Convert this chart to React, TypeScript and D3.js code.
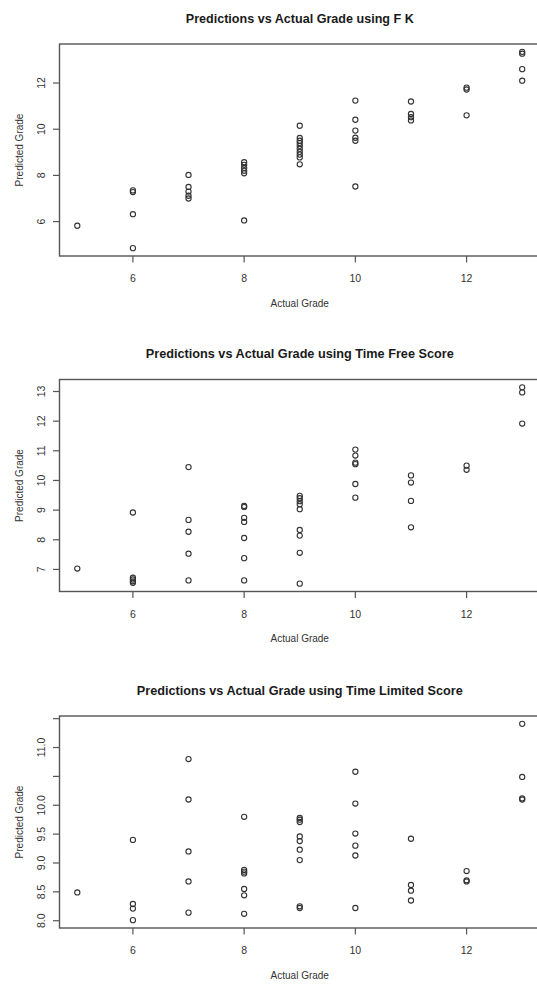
import React from 'react';
import * as d3 from 'd3';

// ---------- data ----------
const actualGrades = [5, 6, 7, 8, 9, 10, 11, 12, 13];

// predicted grades for each actual grade (same order as actualGrades)
const fkPredicted: number[][] = [
  [5.82],
  [7.35, 7.28, 6.32, 4.85],
  [8.02, 7.5, 7.3, 7.12, 7.0],
  [8.57, 8.46, 8.32, 8.2, 8.09, 6.05],
  [10.15, 9.62, 9.5, 9.4, 9.28, 9.15, 9.02, 8.9, 8.78, 8.48],
  [11.24, 10.41, 9.94, 9.63, 9.5, 7.52],
  [11.2, 10.66, 10.52, 10.38],
  [11.8, 11.72, 10.6],
  [13.35, 13.27, 12.6, 12.1],
];

const timeFreePredicted: number[][] = [
  [7.03],
  [8.92, 6.72, 6.66, 6.6, 6.55],
  [10.45, 8.67, 8.27, 7.53, 6.63],
  [9.14, 9.1, 8.74, 8.6, 8.06, 7.38, 6.63],
  [9.48, 9.4, 9.3, 9.2, 9.03, 8.33, 8.14, 7.56, 6.52],
  [11.04, 10.84, 10.6, 10.55, 9.88, 9.42],
  [10.17, 9.93, 9.31, 8.42],
  [10.5, 10.36],
  [13.14, 12.97, 11.92],
];

const timeLimitedPredicted: number[][] = [
  [8.49],
  [9.4, 8.29, 8.21, 8.01],
  [10.8, 10.1, 9.2, 8.68, 8.14],
  [9.8, 8.88, 8.85, 8.82, 8.55, 8.44, 8.12],
  [9.78, 9.75, 9.71, 9.46, 9.38, 9.23, 9.05, 8.25, 8.22],
  [10.58, 10.03, 9.51, 9.3, 9.13, 8.22],
  [9.42, 8.62, 8.52, 8.35],
  [8.86, 8.7, 8.68],
  [11.41, 10.49, 10.12, 10.1],
];

const panelTitles = [
  'Predictions vs Actual Grade using F K',
  'Predictions vs Actual Grade using Time Free Score',
  'Predictions vs Actual Grade using Time Limited Score',
];

const xTickValues = [6, 8, 10, 12];
const xTickLabels = ['6', '8', '10', '12'];
const fkTicks = [6, 8, 10, 12];
const fkTickLabels = ['6', '8', '10', '12'];
const timeFreeTicks = [7, 8, 9, 10, 11, 12, 13];
const timeFreeTickLabels = ['7', '8', '9', '10', '11', '12', '13'];
const timeLimitedTicks = [8.0, 8.5, 9.0, 9.5, 10.0, 10.5, 11.0, 11.5];
// R drops the labels that would collide
const timeLimitedTickLabels = ['8.0', '8.5', '9.0', '9.5', '10.0', '', '11.0', ''];

const xLabel = 'Actual Grade';
const yLabel = 'Predicted Grade';

// ---------- layout ----------
const W = 537;
const H = 986;
const LEFT = 59.5;
const RIGHT = 540;
const PANEL_TOPS = [44, 379.5, 716];
const PANEL_H = 212;
const TITLE_WIDTHS = [228, 308, 326];
const FONT = 'Liberation Sans, Arial, Helvetica, sans-serif';

function rExtend([a, b]: [number, number]): [number, number] {
  const d = (b - a) * 0.04;
  return [a - d, b + d];
}

interface PanelProps {
  title: string;
  series: number[][];
  yTicks: number[];
  yLabels: string[];
  top: number;
  titleWidth: number;
}

function Panel({ title, series, yTicks, yLabels, top, titleWidth }: PanelProps) {
  const bottom = top + PANEL_H;
  const x = d3
    .scaleLinear()
    .domain(rExtend(d3.extent(actualGrades) as [number, number]))
    .range([LEFT, RIGHT]);
  const all = series.flat();
  const y = d3
    .scaleLinear()
    .domain(rExtend(d3.extent(all) as [number, number]))
    .range([bottom, top]);
  const cx = (LEFT + RIGHT) / 2;
  const cy = (top + bottom) / 2;
  const axisColor = '#555';
  const textColor = '#333';

  return (
    <g>
      <text
        x={cx}
        y={top - 26}
        textAnchor="middle"
        dominantBaseline="central"
        fontFamily={FONT}
        fontWeight="bold"
        fontSize={13}
        fill="#1a1a1a"
        textLength={titleWidth}
        lengthAdjust="spacingAndGlyphs"
      >
        {title}
      </text>
      <rect
        x={LEFT}
        y={top}
        width={RIGHT - LEFT}
        height={PANEL_H}
        fill="none"
        stroke={axisColor}
        strokeWidth={1.4}
      />
      {/* x axis ticks */}
      {xTickValues.map((t, i) => (
        <g key={'x' + t}>
          <line x1={x(t)} x2={x(t)} y1={bottom} y2={bottom + 6.5} stroke={axisColor} strokeWidth={1.2} />
          <text
            x={x(t)}
            y={bottom + 22}
            textAnchor="middle"
            dominantBaseline="central"
            fontFamily={FONT}
            fontSize={10.5}
            fill={textColor}
          >
            {xTickLabels[i]}
          </text>
        </g>
      ))}
      {/* y axis ticks */}
      {yTicks.map((t, i) => (
        <g key={'y' + t}>
          <line x1={LEFT - 6.5} x2={LEFT} y1={y(t)} y2={y(t)} stroke={axisColor} strokeWidth={1.2} />
          {yLabels[i] !== '' && (
            <text
              transform={`translate(41,${y(t)}) rotate(-90)`}
              textAnchor="middle"
              dominantBaseline="central"
              fontFamily={FONT}
              fontSize={10.5}
              fill={textColor}
            >
              {yLabels[i]}
            </text>
          )}
        </g>
      ))}
      <text
        x={cx}
        y={bottom + 47}
        textAnchor="middle"
        dominantBaseline="central"
        fontFamily={FONT}
        fontSize={10}
        fill={textColor}
      >
        {xLabel}
      </text>
      <text
        transform={`translate(19,${cy}) rotate(-90)`}
        textAnchor="middle"
        dominantBaseline="central"
        fontFamily={FONT}
        fontSize={10}
        fill={textColor}
      >
        {yLabel}
      </text>
      {series.map((vals, i) =>
        vals.map((v, j) => (
          <circle
            key={i + '-' + j}
            cx={x(actualGrades[i])}
            cy={y(v)}
            r={2.6}
            fill="none"
            stroke="#333"
            strokeWidth={1.1}
          />
        ))
      )}
    </g>
  );
}

export default function App() {
  return (
    <svg
      width={W}
      height={H}
      style={{ position: 'absolute', left: 0, top: 0, background: '#fff' }}
    >
      <rect x={0} y={0} width={W} height={H} fill="#fff" />
      <Panel
        title={panelTitles[0]}
        series={fkPredicted}
        yTicks={fkTicks}
        yLabels={fkTickLabels}
        top={PANEL_TOPS[0]}
        titleWidth={TITLE_WIDTHS[0]}
      />
      <Panel
        title={panelTitles[1]}
        series={timeFreePredicted}
        yTicks={timeFreeTicks}
        yLabels={timeFreeTickLabels}
        top={PANEL_TOPS[1]}
        titleWidth={TITLE_WIDTHS[1]}
      />
      <Panel
        title={panelTitles[2]}
        series={timeLimitedPredicted}
        yTicks={timeLimitedTicks}
        yLabels={timeLimitedTickLabels}
        top={PANEL_TOPS[2]}
        titleWidth={TITLE_WIDTHS[2]}
      />
    </svg>
  );
}
